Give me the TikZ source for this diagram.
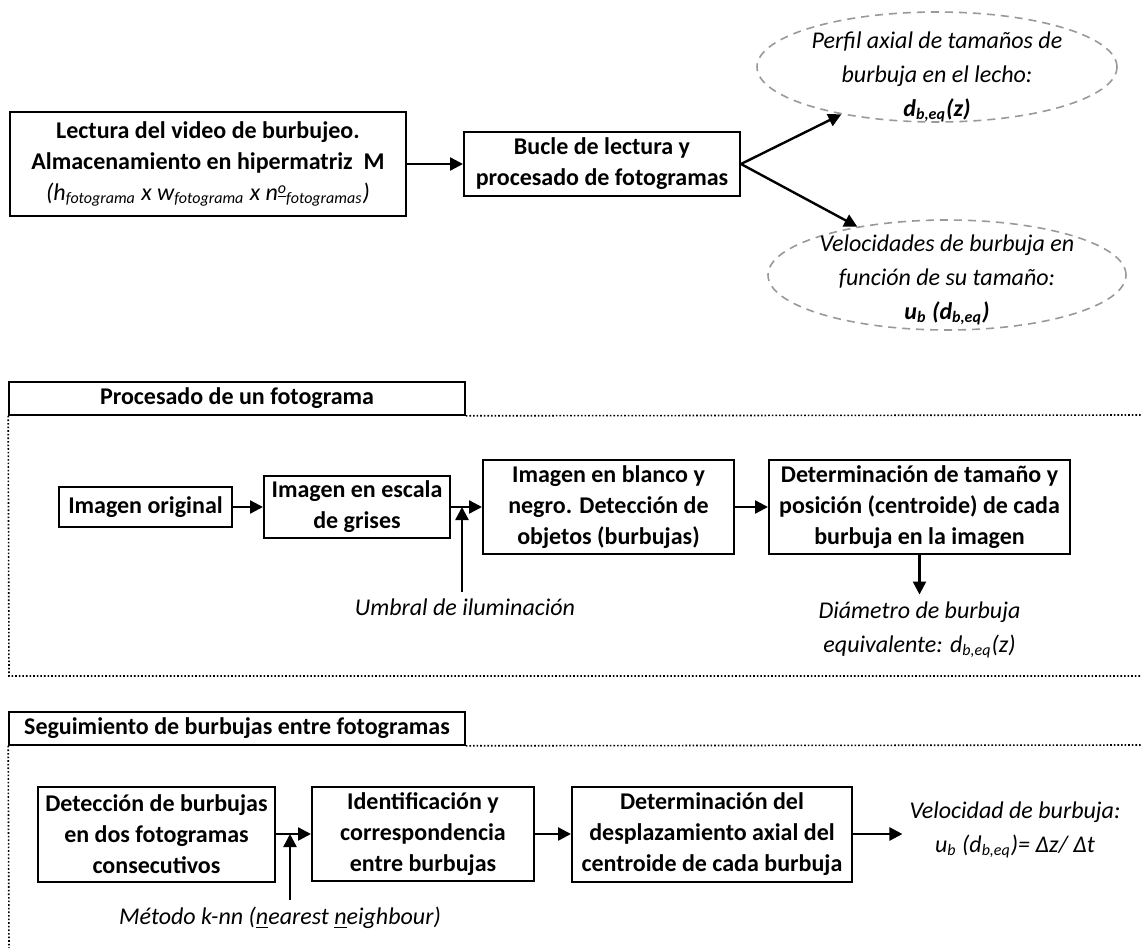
\documentclass[tikz,border=0pt]{standalone}
\usepackage{fontspec}
\setmainfont{Carlito}
\usetikzlibrary{arrows.meta,shapes.geometric}

\begin{document}
\begin{tikzpicture}[
x=0.5pt,y=-0.5pt,
paso/.style={
	rectangle,draw=black,line width=1pt,align=center,inner sep=1pt,
	font=\fontsize{12}{15.5}\selectfont\bfseries},
salida/.style={
	ellipse,draw=black!40,dash pattern=on 4pt off 3pt,line width=0.8pt,inner sep=0pt,
	minimum width=180pt,minimum height=55pt},
nota/.style={align=center,font=\fontsize{12}{17}\selectfont\itshape},
titulo/.style={
	rectangle,draw=black,line width=0.8pt,inner sep=0pt,
	minimum width=228pt,minimum height=16.5pt,
	font=\fontsize{12}{14}\selectfont\bfseries},
marco/.style={densely dotted,line width=0.8pt},
flecha/.style={-{Triangle[length=6.5pt,width=6.5pt]},line width=1.2pt}
]
\useasboundingbox (0,0) rectangle (1142,948);

\node[paso,minimum width=198pt,minimum height=52pt] (lectura) at (208,164)
	{Lectura del video de burbujeo.\\
	 Almacenamiento en hipermatriz~~M\\
	 {\mdseries\itshape (h\textsubscript{fotograma} x w\textsubscript{fotograma} x n\raisebox{0.6ex}{\fontsize{8}{8}\selectfont\underline{o}}\textsubscript{fotogramas})}};
\node[paso,minimum width=138pt,minimum height=32pt] (bucle) at (602,164)
	{Bucle de lectura y\\ procesado de fotogramas};
\node[salida] (perfil) at (937,67) {};
\node[nota] (perfiltxt) at (937,77)
	{Perfil axial de tamaños de\\ burbuja en el lecho:\\ \textbf{d\textsubscript{b,eq}(z)}};
\node[salida,minimum width=179pt] (velocidades) at (947,275) {};
\node[nota] (velocidadestxt) at (947,280)
	{Velocidades de burbuja en\\ función de su tamaño:\\ \textbf{u\textsubscript{b} (d\textsubscript{b,eq})}};

\draw[flecha] (lectura.east) -- (bucle.west);
\draw[flecha] (bucle.east) -- (perfil);
\draw[flecha] (bucle.east) -- (velocidades);

\node[titulo] (titulo1) at (237,398.5) {Procesado de un fotograma};
\draw[marco] (titulo1.south east) -- (1142,415);
\draw[marco] (titulo1.south west) -- (9,676) -- (1142,676);

\node[paso,minimum width=86.5pt,minimum height=20pt] (original) at (145.5,507)
	{Imagen original};
\node[paso,minimum width=93pt,minimum height=31pt] (grises) at (357,507)
	{Imagen en escala\\ de grises};
\node[paso,minimum width=125.5pt,minimum height=47pt] (blanco) at (608.5,507)
	{Imagen en blanco y\\ negro. Detección de\\ objetos (burbujas)};
\node[paso,minimum width=150.5pt,minimum height=47pt] (tamano) at (919.5,507)
	{Determinación de tamaño y\\ posición (centroide) de cada\\ burbuja en la imagen};
\node[nota] (umbral) at (465,607) {Umbral de iluminación};
\node[nota] (diametro) at (919.5,630)
	{Diámetro de burbuja\\ equivalente: d\textsubscript{b,eq}(z)};
\coordinate (cruce1) at (462,507);

\draw[flecha] (original) -- (grises);
\draw[flecha] (grises) -- (blanco);
\draw[flecha] (blanco) -- (tamano);
\draw[flecha] (cruce1 |- umbral.north) -- (cruce1);
\draw[flecha] (tamano.south) -- (diametro.north);

\node[titulo] (titulo2) at (237,728.5) {Seguimiento de burbujas entre fotogramas};
\draw[marco] (titulo2.south east) -- (1142,745);
\draw[marco] (titulo2.south west) -- (9,948);

\node[paso,minimum width=118.5pt,minimum height=47.5pt] (deteccion) at (156.5,834)
	{Detección de burbujas\\ en dos fotogramas\\ consecutivos};
\node[paso,minimum width=111pt,minimum height=47pt] (identif) at (423,834)
	{Identificación y\\ correspondencia\\ entre burbujas};
\node[paso,minimum width=140pt,minimum height=47.5pt] (desplaz) at (712,834)
	{Determinación del\\ desplazamiento axial del\\ centroide de cada burbuja};
\node[nota] (velocidad) at (1015,830)
	{Velocidad de burbuja:\\ u\textsubscript{b} (d\textsubscript{b,eq})= Δz/ Δt};
\node[nota] (knn) at (280,918)
	{Método k-nn (\underline{n}earest \underline{n}eighbour)};
\coordinate (cruce2) at (290,834);

\draw[flecha] (deteccion) -- (identif);
\draw[flecha] (identif) -- (desplaz);
\draw[flecha] (desplaz.east) -- (desplaz.east -| velocidad.west);
\draw[flecha] (cruce2 |- knn.north) -- (cruce2);

\end{tikzpicture}
\end{document}
